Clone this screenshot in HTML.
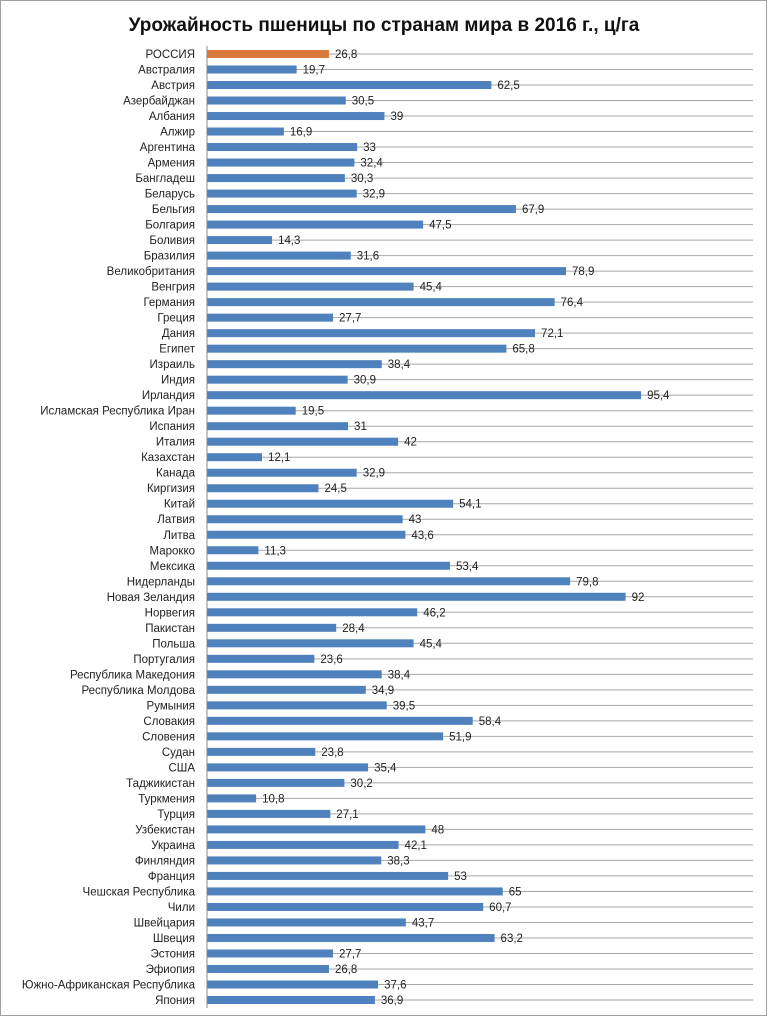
<!DOCTYPE html>
<html><head><meta charset="utf-8"><style>
body{margin:0;background:#fff;}
svg{display:block;font-family:"Liberation Sans","DejaVu Sans",sans-serif;}
</style></head><body>
<svg id="chart" width="768" height="1017">
<rect x="0.5" y="0.5" width="766" height="1015" fill="#fff" stroke="#a0a0a0"/>
<text x="384" y="31" text-anchor="middle" font-size="19" font-weight="bold" fill="#111">Урожайность пшеницы по странам мира в 2016 г., ц/га</text>
<g id="plot"></g>
</svg>
<script>
const categories=["РОССИЯ","Австралия","Австрия","Азербайджан","Албания","Алжир","Аргентина","Армения","Бангладеш","Беларусь","Бельгия","Болгария","Боливия","Бразилия","Великобритания","Венгрия","Германия","Греция","Дания","Египет","Израиль","Индия","Ирландия","Исламская Республика Иран","Испания","Италия","Казахстан","Канада","Киргизия","Китай","Латвия","Литва","Марокко","Мексика","Нидерланды","Новая Зеландия","Норвегия","Пакистан","Польша","Португалия","Республика Македония","Республика Молдова","Румыния","Словакия","Словения","Судан","США","Таджикистан","Туркмения","Турция","Узбекистан","Украина","Финляндия","Франция","Чешская Республика","Чили","Швейцария","Швеция","Эстония","Эфиопия","Южно-Африканская Республика","Япония"];
const values=[26.8,19.7,62.5,30.5,39,16.9,33,32.4,30.3,32.9,67.9,47.5,14.3,31.6,78.9,45.4,76.4,27.7,72.1,65.8,38.4,30.9,95.4,19.5,31,42,12.1,32.9,24.5,54.1,43,43.6,11.3,53.4,79.8,92,46.2,28.4,45.4,23.6,38.4,34.9,39.5,58.4,51.9,23.8,35.4,30.2,10.8,27.1,48,42.1,38.3,53,65,60.7,43.7,63.2,27.7,26.8,37.6,36.9];
const valueLabels=values.map(v=>String(v).replace('.',','));
const NS="http://www.w3.org/2000/svg";
const g=document.getElementById('plot');
const x0=207, xScale=4.55, y0=54, step=946/(categories.length-1);
const xPos=v=>x0+v*xScale;
const yPos=i=>y0+i*step;
function mk(tag,attrs){const e=document.createElementNS(NS,tag);for(const k in attrs)e.setAttribute(k,attrs[k]);g.appendChild(e);return e;}
categories.forEach((c,i)=>{
  const y=yPos(i);
  const gl=mk('line',{x1:x0,x2:753,y1:y,y2:y,stroke:'#a6a6a6','stroke-width':1});
  
  
  const b=mk('rect',{x:x0,y:y-4,width:xPos(values[i])-x0,height:8,fill:i===0?'#d9793a':'#4f81bd'});
  
  
  const t=mk('text',{x:x0-12,y:y+4,'text-anchor':'end','font-size':11.5,fill:'#222'});
  t.textContent=c;
  
  
  const vl=mk('text',{x:xPos(values[i])+6,y:y+4,'font-size':11.5,fill:'#222'});
  vl.textContent=valueLabels[i];
  
  
});
const ax=mk('line',{x1:x0,x2:x0,y1:y0-8,y2:yPos(categories.length-1)+8,stroke:'#888','stroke-width':1});


</script>
</body></html>
